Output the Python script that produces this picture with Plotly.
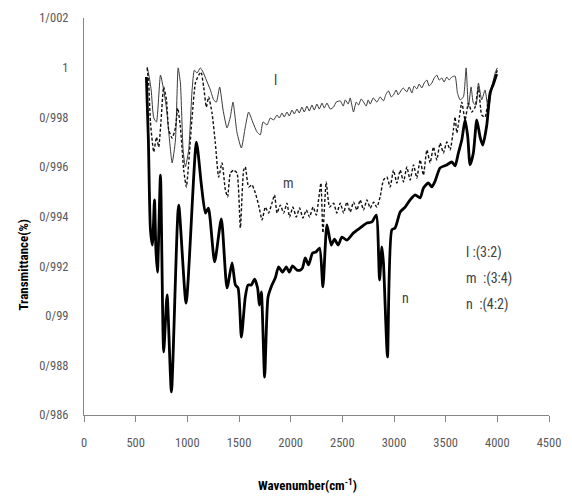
import plotly.graph_objects as go

# ---- data ----
l_x = [611, 628, 650, 675, 701, 740, 771, 798, 820, 853, 885, 911, 933, 959, 981, 1013, 1046, 1068, 1094, 1126,
       1152, 1184, 1223, 1255, 1281, 1313, 1346, 1384, 1416, 1442, 1481, 1523, 1561, 1593, 1636, 1674, 1706, 1732,
       1771, 1803, 1835, 1868, 1890, 1916, 1938, 1964, 1987, 2013, 2035, 2061, 2083, 2109, 2132, 2158, 2180, 2206,
       2228, 2254, 2277, 2303, 2325, 2351, 2383, 2415, 2441, 2480, 2509, 2528, 2557, 2576, 2608, 2634, 2657, 2683,
       2705, 2731, 2750, 2770, 2799, 2834, 2866, 2898, 2924, 2947, 2973, 2995, 3021, 3040, 3060, 3089, 3124, 3147,
       3173, 3195, 3221, 3243, 3269, 3292, 3318, 3340, 3366, 3389, 3414, 3437, 3463, 3485, 3511, 3533, 3559, 3591,
       3614, 3640, 3672, 3698, 3720, 3746, 3768, 3794, 3817, 3849, 3881, 3913, 3946, 3978, 4000]
l_y = [1.00003, 0.9997, 0.9991, 0.99797, 0.99781, 0.9997, 0.9991, 0.99837, 0.99741, 0.99616, 0.99708, 0.99999,
       0.99938, 0.99668, 0.996, 0.99668, 0.9991, 0.9999, 0.99978, 0.99999, 0.99982, 0.9995, 0.9991, 0.9987, 0.99861,
       0.99922, 0.99829, 0.99757, 0.99801, 0.99861, 0.99737, 0.99676, 0.99761, 0.99821, 0.99777, 0.99741, 0.99729,
       0.99781, 0.99769, 0.99797, 0.99789, 0.99809, 0.99797, 0.99817, 0.99801, 0.99821, 0.99805, 0.99829, 0.99813,
       0.99833, 0.99817, 0.99841, 0.99821, 0.99845, 0.99825, 0.99849, 0.99829, 0.99853, 0.99833, 0.99857, 0.99837,
       0.99857, 0.99833, 0.99841, 0.99861, 0.99866, 0.99845, 0.9987, 0.99853, 0.99878, 0.99821, 0.99861, 0.99849,
       0.99874, 0.99861, 0.99845, 0.9987, 0.99853, 0.99878, 0.99861, 0.99882, 0.99866, 0.99894, 0.99906, 0.99882,
       0.9989, 0.9991, 0.9989, 0.99902, 0.99918, 0.99902, 0.99922, 0.99898, 0.99926, 0.99914, 0.99934, 0.99918,
       0.99938, 0.9995, 0.99926, 0.99938, 0.99958, 0.9997, 0.9995, 0.99958, 0.99942, 0.99962, 0.9995, 0.99962,
       0.99966, 0.99898, 0.9987, 0.99882, 0.99999, 0.99841, 0.99922, 0.99857, 0.99849, 0.99938, 0.9987, 0.9991,
       0.99829, 0.99918, 0.99978, 0.99999]

m_x = [611, 626, 643, 675, 701, 723, 746, 771, 798, 820, 853, 885, 907, 933, 965, 991, 1013, 1046, 1078, 1110,
       1133, 1158, 1184, 1206, 1239, 1271, 1303, 1336, 1368, 1390, 1416, 1448, 1481, 1513, 1545, 1561, 1593, 1626,
       1658, 1690, 1723, 1755, 1786, 1819, 1844, 1868, 1900, 1932, 1964, 1989, 2022, 2054, 2086, 2119, 2151, 2183,
       2216, 2248, 2270, 2293, 2312, 2344, 2376, 2415, 2447, 2480, 2512, 2544, 2576, 2608, 2641, 2673, 2705, 2738,
       2770, 2802, 2834, 2866, 2898, 2931, 2963, 2995, 3028, 3060, 3092, 3124, 3156, 3189, 3221, 3253, 3285, 3318,
       3350, 3382, 3414, 3446, 3478, 3511, 3543, 3575, 3591, 3608, 3633, 3656, 3688, 3720, 3753, 3785, 3817, 3849,
       3881, 3913, 3946, 3978, 4000]
m_y = [0.99999, 0.99938, 0.99781, 0.9966, 0.9972, 0.9968, 0.99789, 0.99922, 0.9987, 0.99749, 0.99716, 0.99757,
       0.99837, 0.99761, 0.99587, 0.99519, 0.99616, 0.99801, 0.99938, 0.9997, 0.99982, 0.99922, 0.99841, 0.99882,
       0.99817, 0.99696, 0.99559, 0.99616, 0.99507, 0.99479, 0.99575, 0.99587, 0.99575, 0.99354, 0.99587, 0.996,
       0.99519, 0.99527, 0.99495, 0.99446, 0.99386, 0.99438, 0.99414, 0.99454, 0.99487, 0.99414, 0.99446, 0.99414,
       0.99454, 0.99398, 0.99438, 0.99398, 0.99434, 0.99394, 0.99426, 0.99398, 0.99438, 0.99406, 0.99467, 0.99535,
       0.99334, 0.99539, 0.99438, 0.99454, 0.99414, 0.99454, 0.99414, 0.99458, 0.99418, 0.99458, 0.99426, 0.99467,
       0.99426, 0.99467, 0.99434, 0.99458, 0.99438, 0.99479, 0.99547, 0.99559, 0.99519, 0.99587, 0.99535, 0.99587,
       0.99539, 0.996, 0.99547, 0.99608, 0.99555, 0.99628, 0.99567, 0.99668, 0.99616, 0.9968, 0.99628, 0.99696,
       0.99656, 0.997, 0.99668, 0.99749, 0.99801, 0.99737, 0.99801, 0.99861, 0.99789, 0.99857, 0.99821, 0.99841,
       0.99922, 0.99809, 0.99801, 0.9987, 0.99922, 0.99962, 0.9999]

n_x = [604, 623, 643, 662, 682, 696, 711, 740, 771, 804, 846, 916, 988, 1088, 1136, 1175, 1204, 1264, 1329, 1384,
       1433, 1465, 1491, 1523, 1561, 1587, 1619, 1651, 1680, 1697, 1716, 1748, 1781, 1819, 1851, 1883, 1922, 1958,
       1987, 2018, 2061, 2093, 2115, 2141, 2173, 2212, 2245, 2280, 2312, 2351, 2393, 2424, 2460, 2496, 2544, 2608,
       2673, 2738, 2786, 2828, 2860, 2883, 2898, 2937, 2979, 3011, 3060, 3108, 3156, 3205, 3253, 3285, 3333, 3366,
       3398, 3446, 3511, 3559, 3591, 3623, 3656, 3688, 3714, 3736, 3768, 3801, 3833, 3859, 3898, 3930, 3962, 3994]
n_y = [0.99962, 0.99708, 0.99346, 0.99285, 0.99467, 0.99265, 0.99176, 0.99567, 0.98854, 0.99084, 0.98693, 0.99446,
       0.99051, 0.997, 0.99527, 0.99414, 0.99434, 0.99217, 0.9939, 0.99112, 0.99213, 0.99124, 0.99112, 0.98914,
       0.99076, 0.99124, 0.99124, 0.99148, 0.99112, 0.99043, 0.99096, 0.98753, 0.99076, 0.99124, 0.99152, 0.99197,
       0.99176, 0.99197, 0.99176, 0.99201, 0.99184, 0.99184, 0.99193, 0.99233, 0.99205, 0.99253, 0.99257, 0.99273,
       0.99116, 0.99366, 0.99285, 0.99309, 0.99285, 0.99317, 0.99305, 0.99334, 0.99354, 0.99374, 0.99378, 0.99406,
       0.99144, 0.99277, 0.99213, 0.98834, 0.99346, 0.99354, 0.99418, 0.99438, 0.99467, 0.99487, 0.99475, 0.99515,
       0.99535, 0.99519, 0.99543, 0.99596, 0.99608, 0.9962, 0.99604, 0.99656, 0.99708, 0.99789, 0.9972, 0.99608,
       0.99656, 0.99789, 0.9972, 0.99688, 0.99769, 0.99898, 0.99934, 0.99974]

x_ticks = [0, 500, 1000, 1500, 2000, 2500, 3000, 3500, 4000, 4500]
y_tickvals = [0.986, 0.988, 0.990, 0.992, 0.994, 0.996, 0.998, 1.000, 1.002]
y_ticktext = ["0/986", "0/988", "0/99", "0/992", "0/994", "0/996", "0/998", "1", "1/002"]

curve_labels = ["l", "m", "n"]
curve_label_x = [1851, 1977, 3108]
curve_label_y = [0.99950, 0.99535, 0.99071]
legend_lines = ["l :(3:2)", "m  :(3:4)", "n  :(4:2)"]

FONT = "Roboto Condensed, Liberation Sans Narrow, Roboto, sans-serif"

# The page body adds an 8px offset, so the figure is drawn 8px smaller.
W, H = 564, 489
PX0, PX1, PY0, PY1 = 83.5, 549.0, 18.0, 415.0   # plot area in page pixels


def px(page_x):
    return (page_x - PX0) / (PX1 - PX0)


def py(page_y):
    return (PY1 - page_y) / (PY1 - PY0)


fig = go.Figure()
fig.add_trace(go.Scatter(x=l_x, y=l_y, mode="lines", name="l",
                         line=dict(color="#3a3a3a", width=1, shape="spline", smoothing=0.5)))
fig.add_trace(go.Scatter(x=m_x, y=m_y, mode="lines", name="m",
                         line=dict(color="#111111", width=1.4, dash="3px,2px", shape="spline", smoothing=0.5)))
fig.add_trace(go.Scatter(x=n_x, y=n_y, mode="lines", name="n",
                         line=dict(color="#000000", width=2.8, shape="spline", smoothing=0.6)))

annotations = []
for t, ax, ay in zip(curve_labels, curve_label_x, curve_label_y):
    annotations.append(dict(x=ax, y=ay, xref="x", yref="y", text=t, showarrow=False,
                            xanchor="center", yanchor="middle",
                            font=dict(family=FONT, size=14, color="#3f3f3f")))
legend_y_px = [252, 278, 304]
for t, yy in zip(legend_lines, legend_y_px):
    annotations.append(dict(x=px(464), y=py(yy), xref="paper", yref="paper",
                            text=t, showarrow=False, xanchor="left", yanchor="middle",
                            font=dict(family=FONT, size=14, color="#3f3f3f")))
annotations.append(dict(x=px(22), y=py(265), xref="paper", yref="paper",
                        text="<b>Transmittance(%)</b>", textangle=-90, showarrow=False,
                        xanchor="center", yanchor="middle",
                        font=dict(family=FONT, size=13, color="#000000")))
annotations.append(dict(x=px(307), y=py(485), xref="paper", yref="paper",
                        text="<b>Wavenumber(cm<sup>-1</sup>)</b>", showarrow=False,
                        xanchor="center", yanchor="middle",
                        font=dict(family=FONT, size=13, color="#000000")))

fig.update_layout(
    width=W, height=H,
    margin=dict(l=PX0 - 8, r=W - (PX1 - 8), t=PY0 - 8, b=H - (PY1 - 8)),
    paper_bgcolor="white", plot_bgcolor="white",
    showlegend=False,
    annotations=annotations,
    xaxis=dict(range=[0, 4500], tickvals=x_ticks, showgrid=False, zeroline=False,
               showline=True, linecolor="#868686", linewidth=1,
               ticks="outside", ticklen=6, tickcolor="#868686",
               ticklabelstandoff=10, automargin=False,
               tickfont=dict(family=FONT, size=12.5, color="#595959")),
    yaxis=dict(range=[0.986, 1.002], tickvals=y_tickvals, ticktext=y_ticktext,
               showgrid=False, zeroline=False, showline=True, linecolor="#868686", linewidth=1,
               ticks="", ticklabelstandoff=12, automargin=False,
               tickfont=dict(family=FONT, size=12.5, color="#595959")),
)

fig.write_html("out.html")
